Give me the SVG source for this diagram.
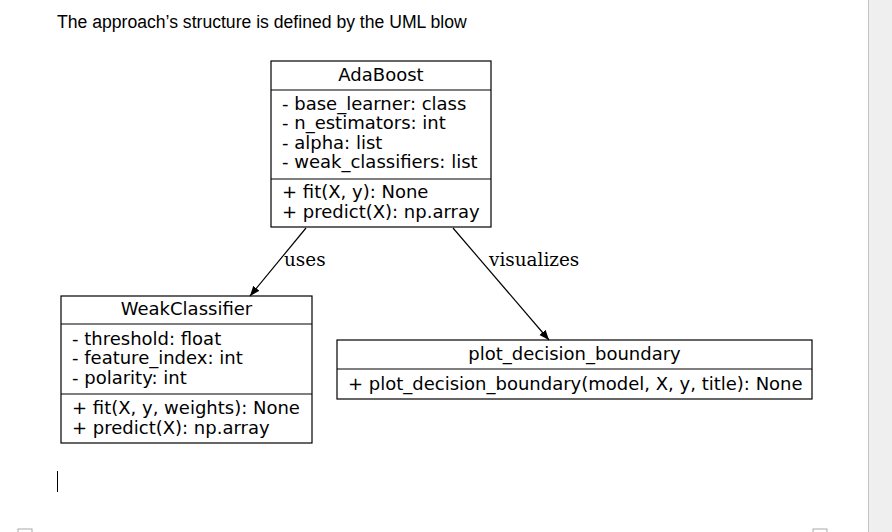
<svg xmlns="http://www.w3.org/2000/svg" width="892" height="532" viewBox="0 0 892 532">
<defs>
<marker id="arr" viewBox="0 0 10 10" refX="10" refY="5" markerWidth="10" markerHeight="10" markerUnits="userSpaceOnUse" orient="auto">
<path d="M0,1 L10,5 L0,9 Z" fill="#000"/>
</marker>
<style>
.box{fill:#fff;stroke:#000;stroke-width:1.2}
.div{stroke:#000;stroke-width:1.2}
.t{font-family:"DejaVu Sans",sans-serif;font-size:18px;fill:#000}
.c{text-anchor:middle}
.lbl{font-family:"DejaVu Serif",serif;font-size:18.4px;fill:#000}
.edge{stroke:#000;stroke-width:1.2;fill:none}
</style>
</defs>
<rect x="0" y="0" width="892" height="532" fill="#fff"/>
<rect x="868" y="0" width="24" height="532" fill="#efefef"/>
<line x1="868.5" y1="0" x2="868.5" y2="532" stroke="#c4c4c4"/>
<rect x="18" y="529" width="14" height="4" fill="#fff" stroke="#aaa"/>
<rect x="813" y="529" width="14" height="4" fill="#fff" stroke="#aaa"/>
<text x="57" y="28" font-family="Liberation Sans, Arial, sans-serif" font-size="17.6" fill="#000">The approach’s structure is defined by the UML blow</text>
<line x1="57.5" y1="471" x2="57.5" y2="492" stroke="#000"/>

<g id="AdaBoost">
<rect class="box" x="271" y="61" width="220" height="166"/>
<line class="div" x1="271" y1="90" x2="491" y2="90"/>
<line class="div" x1="271" y1="179" x2="491" y2="179"/>
<text class="t c" x="381" y="81">AdaBoost</text>
<text class="t" x="282" y="110">- base_learner: class</text>
<text class="t" x="282" y="129">- n_estimators: int</text>
<text class="t" x="282" y="149">- alpha: list</text>
<text class="t" x="282" y="168">- weak_classifiers: list</text>
<text class="t" x="282" y="198">+ fit(X, y): None</text>
<text class="t" x="282" y="218">+ predict(X): np.array</text>
</g>

<g id="WeakClassifier">
<rect class="box" x="61" y="296" width="251" height="147"/>
<line class="div" x1="61" y1="324" x2="312" y2="324"/>
<line class="div" x1="61" y1="394" x2="312" y2="394"/>
<text class="t c" x="186.5" y="315">WeakClassifier</text>
<text class="t" x="72" y="345">- threshold: float</text>
<text class="t" x="72" y="364">- feature_index: int</text>
<text class="t" x="72" y="384">- polarity: int</text>
<text class="t" x="72" y="414">+ fit(X, y, weights): None</text>
<text class="t" x="72" y="434">+ predict(X): np.array</text>
</g>

<g id="plot_decision_boundary">
<rect class="box" x="337" y="340" width="475" height="59"/>
<line class="div" x1="337" y1="369" x2="812" y2="369"/>
<text class="t c" x="574.5" y="360">plot_decision_boundary</text>
<text class="t" x="348" y="390">+ plot_decision_boundary(model, X, y, title): None</text>
</g>

<g id="connectors">
<line class="edge" x1="306" y1="228" x2="250" y2="296" marker-end="url(#arr)"/>
<text class="lbl" x="284" y="266">uses</text>
<line class="edge" x1="453" y1="228" x2="549" y2="340" marker-end="url(#arr)"/>
<text class="lbl" x="489" y="266">visualizes</text>
</g>
</svg>
